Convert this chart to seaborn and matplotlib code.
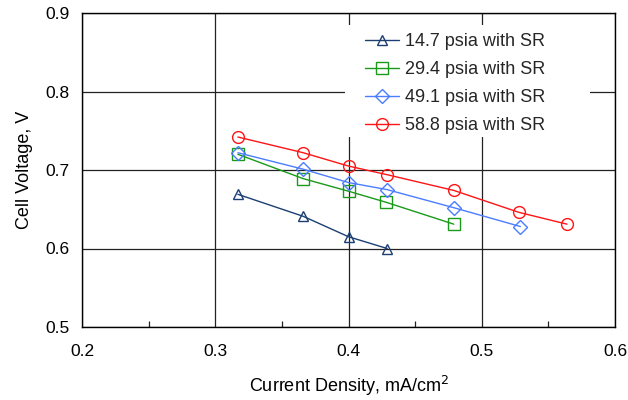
import matplotlib
matplotlib.use("Agg")
import matplotlib.pyplot as plt
from matplotlib.patches import Rectangle
from matplotlib.ticker import MultipleLocator
import pandas as pd
import seaborn as sns

# Polarization curves at four operating pressures
labels = ["14.7 psia with SR", "29.4 psia with SR", "49.1 psia with SR", "58.8 psia with SR"]
current_14_7 = [0.317, 0.366, 0.400, 0.429]
voltage_14_7 = [0.669, 0.641, 0.615, 0.600]
current_29_4 = [0.317, 0.366, 0.400, 0.428, 0.479]
voltage_29_4 = [0.720, 0.689, 0.673, 0.659, 0.631]
current_49_1 = [0.317, 0.366, 0.400, 0.429, 0.479, 0.529]
voltage_49_1 = [0.722, 0.701, 0.684, 0.675, 0.652, 0.628]
current_58_8 = [0.317, 0.366, 0.400, 0.429, 0.479, 0.528, 0.564]
voltage_58_8 = [0.742, 0.722, 0.705, 0.694, 0.674, 0.646, 0.631]

x_ticks = [0.2, 0.3, 0.4, 0.5, 0.6]
y_ticks = [0.5, 0.6, 0.7, 0.8, 0.9]

colors = ["#1B3F73", "#1A9A1A", "#4A7DFF", "#FF1414"]
markers = ["^", "s", "D", "o"]
marker_sizes = [7.5, 8, 7, 8.5]

sns.set_theme(style="white")
plt.rcParams["font.family"] = ["Liberation Sans", "DejaVu Sans"]
plt.rcParams["font.size"] = 12.5

fig = plt.figure(figsize=(6.28, 4.0), dpi=100)
ax = fig.add_axes([0.1306, 0.1825, 0.8487, 0.785])

series = [
    (current_14_7, voltage_14_7),
    (current_29_4, voltage_29_4),
    (current_49_1, voltage_49_1),
    (current_58_8, voltage_58_8),
]
for (xs, ys), lab, c, m, ms in zip(series, labels, colors, markers, marker_sizes):
    df = pd.DataFrame({"current": xs, "voltage": ys})
    sns.lineplot(data=df, x="current", y="voltage", ax=ax, color=c, label=lab,
                 marker=m, markersize=ms, markerfacecolor="none",
                 markeredgecolor=c, markeredgewidth=1.0, linewidth=1.0,
                 sort=False, zorder=3)

ax.set_xlim(0.2, 0.6)
ax.set_ylim(0.5, 0.9)
ax.set_xticks(x_ticks)
ax.set_yticks(y_ticks)
ax.set_xticklabels([f"{v:.1f}" for v in x_ticks])
ax.set_yticklabels([f"{v:.1f}" for v in y_ticks])
ax.xaxis.set_minor_locator(MultipleLocator(0.05))

ax.grid(True, which="major", color="#222222", linewidth=0.9, zorder=1)
ax.tick_params(axis="both", which="major", length=0, labelsize=12.5, colors="black")
ax.tick_params(axis="x", which="major", pad=12)
ax.tick_params(axis="y", which="major", pad=9)
ax.tick_params(axis="x", which="minor", direction="in", length=4, width=0.9,
               color="#222222", bottom=True)
for sp in ax.spines.values():
    sp.set_visible(True)
    sp.set_color("black")
    sp.set_linewidth(1.0)

ax.set_xlabel("Current Density, mA/cm$^2$", fontsize=13, labelpad=11, color="black")
ax.set_ylabel("Cell Voltage, V", fontsize=13, labelpad=9, color="black")

# White panel behind the legend, hiding the grid there
ax.add_patch(Rectangle((0.4934, 0.605), 0.4596, 0.357, transform=ax.transAxes,
                       facecolor="white", edgecolor="none", zorder=2))

leg = ax.legend(loc="upper left", bbox_to_anchor=(0.531, 0.935), frameon=False,
                fontsize=13, handlelength=1.9, handletextpad=0.3,
                labelspacing=0.6, borderpad=0, borderaxespad=0)
leg.set_zorder(5)

fig.savefig("out.png", dpi=100)
